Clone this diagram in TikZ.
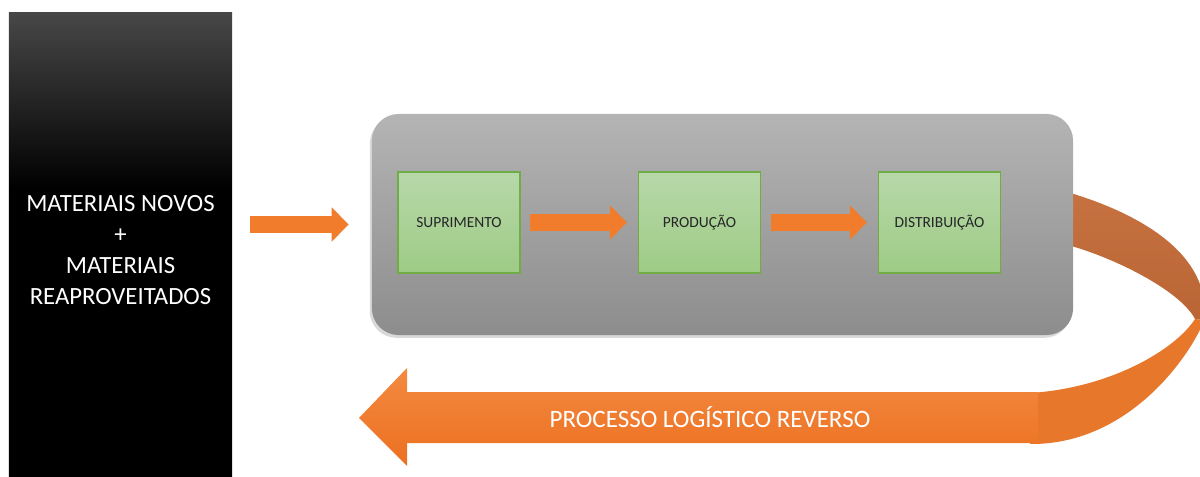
\documentclass[tikz,border=0pt]{standalone}
\usepackage{fontspec}
\setmainfont{Carlito}
\usetikzlibrary{arrows.meta}
\usetikzlibrary{shadows}

\definecolor{laranja}{HTML}{F07C2C}
\definecolor{laranjaclaro}{HTML}{F38A40}
\definecolor{laranjafundo}{HTML}{EC6F20}
\definecolor{laranjaescuro}{HTML}{C46A37}
\definecolor{cinzaclaro}{HTML}{B4B4B4}
\definecolor{cinzaescuro}{HTML}{8D8D8D}
\definecolor{verdeclaro}{HTML}{B7D8A9}
\definecolor{verdeescuro}{HTML}{9ECB85}
\definecolor{verdeborda}{HTML}{70AD47}
\pgfdeclareverticalshading{fundopreto}{100bp}{color(0bp)=(black); color(56bp)=(black); color(75bp)=(black!72); color(100bp)=(black!72)}

\begin{document}
\begin{tikzpicture}[x=0.025cm, y=-0.025cm,
    etapa/.style={draw=verdeborda, line width=1pt, top color=verdeclaro, bottom color=verdeescuro,
      minimum width=3.05cm, minimum height=2.525cm, font=\fontsize{11}{13}\selectfont, text=black!85},
    seta/.style={draw=laranja, line width=12.1pt, -{Triangle[length=12pt, width=23.8pt]}}]
            \useasboundingbox (0,0) rectangle (1200,477);
            \clip (0,0) rectangle (1200,477);

            % Faixa curva (retorno)
            \shade[top color=laranjaescuro!95!white, bottom color=laranjaescuro!95!black]
              (1060,190) .. controls (1140,212) and (1212,255) .. (1204,320)
              -- (1195,319) .. controls (1180,290) and (1110,255) .. (1060,243) -- cycle;
            \fill[laranja!96!black] (1030,393) .. controls (1110,388) and (1175,350) .. (1195,319)
              -- (1204,320) .. controls (1196,345) and (1135,445) .. (1030,444) -- cycle;

            % Nodos
            \node[shading=fundopreto, minimum width=5.575cm, minimum height=11.6cm] (caixapreta) at (120.5,245) {};
            \node[align=center, text=white, font=\fontsize{17.6}{22}\selectfont] (materiais) at (120.5,250)
              {MATERIAIS NOVOS\\+\\MATERIAIS\\REAPROVEITADOS};
            \node[rounded corners=19pt, top color=cinzaclaro, bottom color=cinzaescuro,
              minimum width=17.525cm, minimum height=5.525cm,
              drop shadow={shadow xshift=-1.5pt, shadow yshift=-2pt, opacity=0.3}] (ciclo) at (722.5,224.5) {};
            \node[etapa] (suprimento) at (459,222.5) {SUPRIMENTO};
            \node[etapa] (producao) at (699.5,222.5) {PRODUÇÃO};
            \node[etapa] (distribuicao) at (939.5,222.5) {DISTRIBUIÇÃO};

            % Setas
            \draw[seta, shorten <=12.8pt, shorten >=16.4pt] (ciclo.west -| caixapreta.east) -- (ciclo.west);
            \draw[seta, shorten <=6.6pt, shorten >=7.8pt] (suprimento) -- (producao);
            \draw[seta, shorten <=7.1pt, shorten >=7.8pt] (producao) -- (distribuicao);

            % Seta de retorno
            \coordinate (ponta) at (359,418);
            \shade[top color=laranjaclaro, bottom color=laranjafundo] (ponta) -- (407,368) -- (407,392)
              -- (1038,392) -- (1038,443) -- (407,443) -- (407,466) -- cycle;
            \node[text=white, font=\fontsize{17.8}{22}\selectfont] (reverso) at (710,417) {PROCESSO LOGÍSTICO REVERSO};
          \end{tikzpicture}
\end{document}
